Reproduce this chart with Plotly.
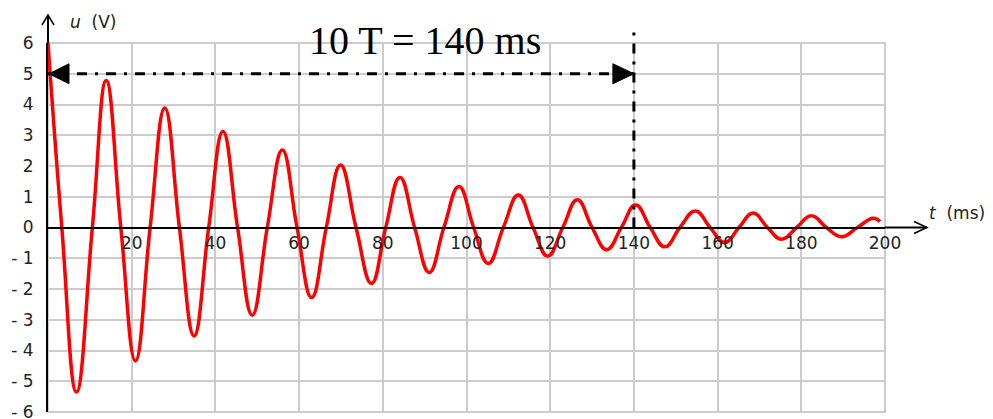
import plotly.graph_objects as go

# ---- data ----
T_MS = [0.0, 3.3, 6.8, 10.6, 13.9, 17.4, 20.9, 24.4, 27.9, 31.4, 34.9, 38.4,
        41.8, 45.3, 48.8, 52.4, 56.0, 59.5, 63.0, 66.5, 69.9, 73.6, 77.3, 80.7,
        84.1, 87.6, 91.1, 94.6, 98.2, 101.7, 105.2, 108.8, 112.4, 115.9, 119.4,
        123.0, 126.5, 130.0, 133.5, 137.0, 140.4, 143.9, 147.4, 151.0, 154.7,
        158.2, 161.7, 165.1, 168.5, 171.9, 175.3, 178.9, 182.4, 186.0, 189.6,
        193.4, 197.2, 198.8]
U_V = [6.00, 0, -5.35, 0, 4.78, 0, -4.34, 0, 3.89, 0, -3.53, 0,
       3.12, 0, -2.85, 0, 2.52, 0, -2.28, 0, 2.03, 0, -1.82, 0,
       1.63, 0, -1.46, 0, 1.33, 0, -1.17, 0, 1.06, 0, -0.93,
       0, 0.90, 0, -0.72, 0, 0.73, 0, -0.63, 0, 0.54,
       0, -0.49, 0, 0.47, 0, -0.38, 0, 0.38, 0, -0.30,
       0, 0.30, 0.19]

X_TICKS = [20, 40, 60, 80, 100, 120, 140, 160, 180, 200]
X_TICK_TEXT = ["20", "40", "60", "80", "100", "120", "140", "160", "180", "200"]
Y_TICKS = [6, 5, 4, 3, 2, 1, 0, -1, -2, -3, -4, -5, -6]
Y_TICK_TEXT = ["6", "5", "4", "3", "2", "1", "0", "- 1", "- 2", "- 3", "- 4", "- 5", "- 6"]

X_RANGE = [0, 200]
Y_RANGE = [-6, 6]
PERIOD_SPAN_MS = 140       # 10 T
MARK_LEVEL_V = 5           # level of the double arrow
TITLE_TEXT = "10 T = 140 ms"

def px(t):
    return (t - X_RANGE[0]) / (X_RANGE[1] - X_RANGE[0])

def py(u):
    return (u - Y_RANGE[0]) / (Y_RANGE[1] - Y_RANGE[0])

LABEL_FONT = dict(family="DejaVu Sans", size=17, color="#222222")
GRID = "#cccccc"
DASHDOT = "10px,8px,3px,8px"

fig = go.Figure()
fig.add_trace(go.Scatter(
    x=T_MS, y=U_V, mode="lines",
    line=dict(color="#ff0000", width=3.5, shape="spline", smoothing=1.3),
    hoverinfo="skip", showlegend=False,
))

fig.update_layout(
    width=993, height=419,
    margin=dict(l=48, r=108, t=43, b=7, pad=0, autoexpand=False),
    paper_bgcolor="white", plot_bgcolor="white",
    showlegend=False,
    xaxis=dict(
        range=X_RANGE, tickvals=X_TICKS, ticktext=X_TICK_TEXT,
        showgrid=True, gridcolor=GRID, gridwidth=2,
        zeroline=False, showline=True, linecolor="black", linewidth=2,
        anchor="free", position=py(0), ticks="", automargin=False,
        tickfont=LABEL_FONT, fixedrange=True, ticklabeloverflow="allow",
    ),
    yaxis=dict(
        range=Y_RANGE, tickvals=Y_TICKS, ticktext=Y_TICK_TEXT,
        showgrid=True, gridcolor=GRID, gridwidth=2,
        zeroline=False, showline=True, linecolor="black", linewidth=2,
        ticks="", ticklabelstandoff=9, ticklabeloverflow="allow", automargin=False,
        tickfont=LABEL_FONT, fixedrange=True,
    ),
)

shapes = []
# grey frame of grid
shapes.append(dict(type="rect", xref="paper", yref="paper", x0=0, x1=1, y0=0, y1=1,
                   line=dict(color=GRID, width=2), layer="below"))
# y axis extension + arrow
shapes.append(dict(type="path", xref="paper", yref="paper", xsizemode="pixel", ysizemode="pixel",
                   xanchor=0, yanchor=1, path="M0,0 L0,28",
                   line=dict(color="black", width=2)))
shapes.append(dict(type="path", xref="paper", yref="paper", xsizemode="pixel", ysizemode="pixel",
                   xanchor=0, yanchor=1, path="M-6,18 L0,28 L6,18",
                   line=dict(color="black", width=1.5)))
# x axis extension + arrow
shapes.append(dict(type="path", xref="paper", yref="paper", xsizemode="pixel", ysizemode="pixel",
                   xanchor=1, yanchor=py(0), path="M0,0 L42,0",
                   line=dict(color="black", width=2)))
shapes.append(dict(type="path", xref="paper", yref="paper", xsizemode="pixel", ysizemode="pixel",
                   xanchor=1, yanchor=py(0), path="M29,6 L42,0 L29,-6",
                   line=dict(color="black", width=1.5)))
# horizontal dash-dot double arrow
shapes.append(dict(type="line", xref="x", yref="y", x0=0, x1=PERIOD_SPAN_MS,
                   y0=MARK_LEVEL_V, y1=MARK_LEVEL_V,
                   line=dict(color="black", width=3, dash=DASHDOT)))
shapes.append(dict(type="path", xref="x", yref="y", xsizemode="pixel", ysizemode="pixel",
                   xanchor=0, yanchor=MARK_LEVEL_V, path="M1,0 L21,10 L21,-10 Z",
                   fillcolor="black", line=dict(color="black", width=1)))
shapes.append(dict(type="path", xref="x", yref="y", xsizemode="pixel", ysizemode="pixel",
                   xanchor=PERIOD_SPAN_MS, yanchor=MARK_LEVEL_V, path="M0,0 L-21,10 L-21,-10 Z",
                   fillcolor="black", line=dict(color="black", width=1)))
# vertical dash-dot line at 10 T
shapes.append(dict(type="path", xref="paper", yref="paper", xsizemode="pixel", ysizemode="pixel",
                   xanchor=px(PERIOD_SPAN_MS), yanchor=py(0), path="M0,0 L0,197",
                   line=dict(color="black", width=3, dash=DASHDOT)))
fig.update_layout(shapes=shapes)

annotations = [
    dict(text=TITLE_TEXT, xref="x", yref="paper", x=90, y=1.008,
         xanchor="center", yanchor="middle", showarrow=False,
         font=dict(family="Liberation Serif", size=40, color="black")),
    dict(text="<i>u</i>\u00a0\u00a0(V)", xref="paper", yref="paper", x=0.0239, y=1.057,
         xanchor="left", yanchor="middle", showarrow=False, font=LABEL_FONT),
    dict(text="<i>t</i>\u00a0\u00a0(ms)", xref="paper", yref="paper", x=1.050, y=0.539,
         xanchor="left", yanchor="middle", showarrow=False, font=LABEL_FONT),
]
fig.update_layout(annotations=annotations)

fig.write_html("out.html", config={"displayModeBar": False, "staticPlot": True})
